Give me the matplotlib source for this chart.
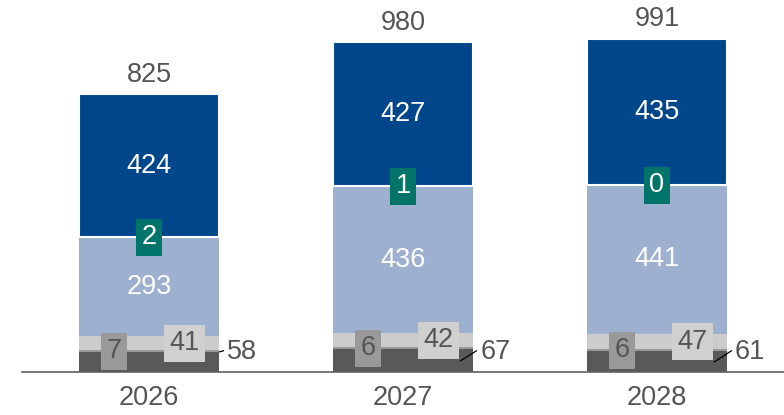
import matplotlib
matplotlib.use('Agg')
import matplotlib.pyplot as plt

plt.rcParams['font.family'] = ['Liberation Sans', 'DejaVu Sans']

# values
years = ['2026', '2027', '2028']
dark_gray = [58, 67, 61]
mid_gray = [7, 6, 6]
light_gray = [41, 42, 47]
light_blue = [293, 436, 441]
teal = [2, 1, 0]
dark_blue = [424, 427, 435]
totals = [825, 980, 991]

c_dark_blue = '#00468b'
c_light_blue = '#9db0cf'
c_teal = '#007469'
c_dark_gray = '#595959'
c_mid_gray = '#999999'
c_light_gray = '#cccccc'
c_text = '#555555'

fig = plt.figure(figsize=(7.84, 4.15), dpi=100)
ax = fig.add_axes([22 / 784, 43 / 415, 762 / 784, 372 / 415])

x = list(range(len(years)))
w = 0.555

# stack the segments from bottom up
layers = [
    (dark_gray, c_dark_gray),
    (mid_gray, c_mid_gray),
    (light_gray, c_light_gray),
    (light_blue, c_light_blue),
    (teal, c_teal),
    (dark_blue, c_dark_blue),
]
bottoms = [0] * len(years)
starts = []
for vals, col in layers:
    starts.append(list(bottoms))
    ec = 'white' if col == c_dark_blue else col
    lw = 1.5 if col == c_dark_blue else 0
    ax.bar(x, vals, w, bottom=bottoms, color=col, edgecolor=ec, linewidth=lw, zorder=2)
    bottoms = [b + v for b, v in zip(bottoms, vals)]

fs = 19.5
box_pad = 'square,pad=0.2'
for i in x:
    # dark blue and light blue labels
    b_db = starts[5][i]
    ax.text(i, b_db + dark_blue[i] / 2, str(dark_blue[i]), ha='center', va='center',
            color='white', fontsize=fs, zorder=5)
    b_lb = starts[3][i]
    ax.text(i, b_lb + light_blue[i] / 2, str(light_blue[i]), ha='center', va='center',
            color='white', fontsize=fs, zorder=5)

    # teal box on the boundary
    ax.text(i, starts[4][i] + teal[i] / 2, str(teal[i]), ha='center', va='center',
            color='white', fontsize=fs, zorder=6,
            bbox=dict(boxstyle=box_pad, fc=c_teal, ec='none'))

    # gray labels in boxes
    ax.text(i - 0.137, starts[1][i] + mid_gray[i] / 2, str(mid_gray[i]), ha='center', va='center',
            color=c_text, fontsize=fs, zorder=6,
            bbox=dict(boxstyle=box_pad, fc=c_mid_gray, ec='none'))
    ax.text(i + 0.14, starts[2][i] + light_gray[i] / 2, str(light_gray[i]), ha='center', va='center',
            color=c_text, fontsize=fs, zorder=6,
            bbox=dict(boxstyle=box_pad, fc='#d0d0d0', ec='none'))

    # total on top
    ax.text(i, totals[i] + 58, str(totals[i]), ha='center', va='center',
            color=c_text, fontsize=fs, zorder=5)

# dark gray labels outside with leader lines
leaders = [((0.278, 60), (0.293, 63)), ((0.226, 33), (0.289, 63)), ((0.226, 30), (0.293, 63))]
for i in x:
    (x0, y0), (x1, y1) = leaders[i]
    ax.plot([i + x0, i + x1], [y0, y1], color='black', lw=0.9, zorder=4)
    ax.text(i + 0.305, 60, str(dark_gray[i]), ha='left', va='center',
            color=c_text, fontsize=fs, zorder=5)

ax.set_xlim(-0.5, 2.5)
ax.set_ylim(0, 1105)
ax.set_xticks(x)
ax.set_xticklabels(years, fontsize=fs, color=c_text)
ax.tick_params(axis='x', length=0, pad=9)
ax.set_yticks([])
for s in ['top', 'right', 'left']:
    ax.spines[s].set_visible(False)
ax.spines['bottom'].set_color('#606060')
ax.spines['bottom'].set_linewidth(1.2)
ax.spines['bottom'].set_zorder(3)

fig.savefig('out.png', dpi=100)
